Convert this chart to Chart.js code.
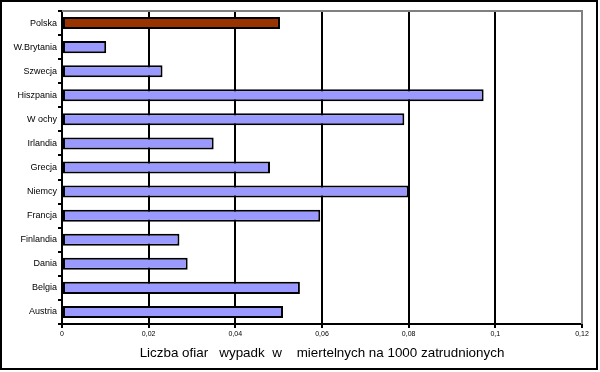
<!DOCTYPE html>
<html>
<head>
<meta charset="utf-8">
<script src="https://cdn.jsdelivr.net/npm/chart.js@4"></script>
<style>
  body { margin: 0; background: #fff; }
  #box { width: 594px; height: 366px; border: 2px solid #000; position: relative; }
</style>
</head>
<body>
<div id="box"><canvas id="grafico" width="594" height="366"></canvas></div>
<script>
const kraje = ["Polska", "W.Brytania", "Szwecja", "Hiszpania", "W ochy", "Irlandia",
  "Grecja", "Niemcy", "Francja", "Finlandia", "Dania", "Belgia", "Austria"];
const wartosci = [0.0503, 0.0102, 0.0232, 0.0973, 0.079, 0.035,
  0.048, 0.080, 0.0596, 0.0271, 0.029, 0.0549, 0.051];
const tytulOsi = "Liczba ofiar   wypadk  w    miertelnych na 1000 zatrudnionych";

const kolory = kraje.map((k) => (k == "Polska" ? "#993300" : "#9999FF"));

// gray top and right frame of the plot area
const ramka = {
  id: "ramka",
  afterDraw(chart) {
    const { ctx, chartArea: a } = chart;
    ctx.save();
    ctx.strokeStyle = "#808080";
    ctx.lineWidth = 2;
    ctx.beginPath();
    ctx.moveTo(a.left, a.top);
    ctx.lineTo(a.right, a.top);
    ctx.lineTo(a.right, a.bottom);
    ctx.stroke();
    ctx.restore();
  },
};

new Chart(document.getElementById("grafico"), {
  type: "bar",
  data: {
    labels: kraje,
    datasets: [{
      data: wartosci,
      backgroundColor: kolory,
      borderColor: "#000",
      borderWidth: 2,
      borderSkipped: false,
      barPercentage: 0.5,
      categoryPercentage: 1,
    }],
  },
  options: {
    indexAxis: "y",
    responsive: false,
    animation: false,
    layout: { padding: { left: 0, right: 14, top: 9, bottom: 0 } },
    plugins: { legend: { display: false }, tooltip: { enabled: false } },
    scales: {
      x: {
        min: 0,
        max: 0.12,
        ticks: {
          stepSize: 0.02,
          color: "#000",
          font: { family: "Liberation Sans", size: 7 },
          padding: 2,
          callback: (v) => String(Math.round(v * 100) / 100).replace(".", ","),
        },
        grid: { color: "#000", lineWidth: 2, tickLength: 4 },
        border: { color: "#000", width: 2 },
        title: {
          display: true,
          text: tytulOsi,
          color: "#000",
          font: { family: "Liberation Sans", size: 13.4 },
          padding: { top: 0, bottom: 7 },
        },
        afterFit: (s) => { s.height = 44; },
      },
      y: {
        ticks: {
          color: "#000",
          font: { family: "Liberation Sans", size: 9 },
          padding: 1,
        },
        grid: { offset: true, drawOnChartArea: false, color: "#000", lineWidth: 2, tickLength: 4 },
        border: { color: "#000", width: 2 },
        afterFit: (s) => { s.width = 60; },
      },
    },
  },
  plugins: [ramka],
});
</script>
</body>
</html>
